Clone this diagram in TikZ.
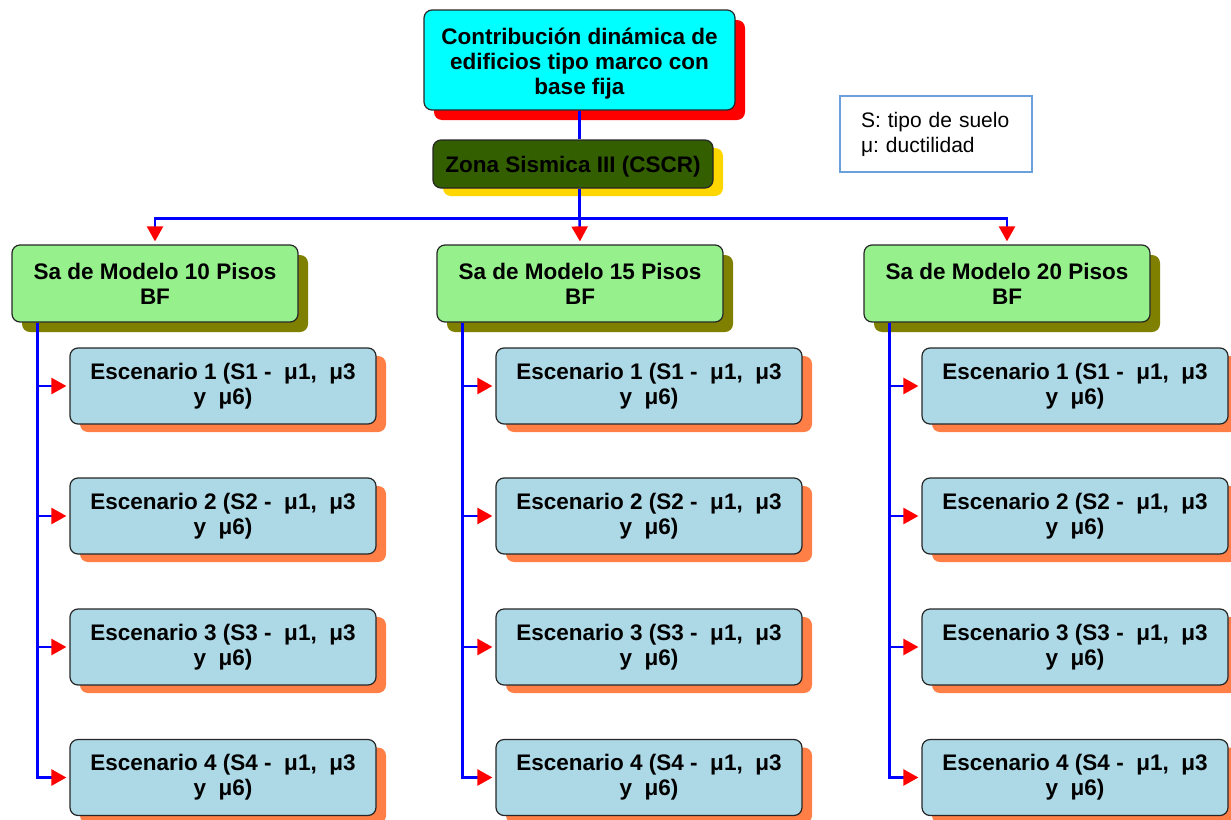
\documentclass[tikz,border=0pt]{standalone}
\usepackage{fontspec}
\setmainfont{Liberation Sans}
\usetikzlibrary{arrows.meta,shadows}
\definecolor{topfill}{RGB}{0,255,255}
\definecolor{zonafill}{RGB}{51,95,0}
\definecolor{zonashadow}{RGB}{255,215,0}
\definecolor{gfill}{RGB}{150,240,140}
\definecolor{gshadow}{RGB}{128,128,0}
\definecolor{bfill}{RGB}{173,216,230}
\definecolor{bshadow}{RGB}{255,127,70}
\definecolor{legborder}{RGB}{106,160,220}
\frenchspacing
\newcommand{\lowertext}[2]{\raisebox{-#1}[\height][\depth]{#2}}
\tikzset{
  box/.style={draw=black!85, line width=1.2pt, rounded corners=8pt, align=center,
    font=\fontsize{22.5}{25}\selectfont\bfseries\frenchspacing, inner sep=0pt},
  topbox/.style={box, fill=topfill, minimum width=311pt, minimum height=100pt,
    drop shadow={shadow xshift=10pt, shadow yshift=-10pt, fill=red, opacity=1}},
  zonabox/.style={box, fill=zonafill, minimum width=280pt, minimum height=48pt,
    drop shadow={shadow xshift=10pt, shadow yshift=-8pt, fill=zonashadow, opacity=1}},
  gbox/.style={box, fill=gfill, minimum width=286pt, minimum height=77pt,
    drop shadow={shadow xshift=10pt, shadow yshift=-10pt, fill=gshadow, opacity=1}},
  bbox/.style={box, fill=bfill, minimum width=306pt, minimum height=76pt,
    drop shadow={shadow xshift=10pt, shadow yshift=-8pt, fill=bshadow, opacity=1}},
  legend/.style={draw=legborder, line width=1.5pt, text width=150pt, inner xsep=21pt,
    inner ysep=0pt, minimum height=76pt, align=left,
    font=\fontsize{21}{25}\selectfont\frenchspacing},
  conn/.style={draw=blue, line width=2.5pt},
  arr/.style={conn, shorten >=3pt, -{Triangle[red, width=16pt, length=15pt]}}
}
\begin{document}
\begin{tikzpicture}[x=1pt,y=-1pt]
\useasboundingbox (0,0) rectangle (1231,819);

\node[topbox] (top) at (579.5,60) {\lowertext{4pt}{\begin{tabular}{@{}c@{}}Contribución dinámica de\\edificios tipo marco con\\base fija\end{tabular}}};
\node[zonabox] (zona) at (573,164) {\lowertext{3pt}{Zona Sismica III (CSCR)}};
\node[legend] (leg) at (936,134) {S: tipo de suelo\\μ: ductilidad};

\node[gbox] (g1) at (155,283.5) {Sa de Modelo 10 Pisos\\BF};
\node[gbox] (g2) at (580,283.5) {Sa de Modelo 15 Pisos\\BF};
\node[gbox] (g3) at (1007,283.5) {Sa de Modelo 20 Pisos\\BF};

\foreach \c/\x in {1/223,2/649,3/1075}{
  \node[bbox] (b\c1) at (\x,386) {Escenario 1 (S1 - \ μ1, \ μ3\\y \ μ6)};
  \node[bbox] (b\c2) at (\x,516) {Escenario 2 (S2 - \ μ1, \ μ3\\y \ μ6)};
  \node[bbox] (b\c3) at (\x,647) {Escenario 3 (S3 - \ μ1, \ μ3\\y \ μ6)};
  \node[bbox] (b\c4) at (\x,777.5) {Escenario 4 (S4 - \ μ1, \ μ3\\y \ μ6)};
}

\path (top.south) ++(0,108) coordinate (hub);
\draw[conn] (top.south) -- (top.south |- zona.north);
\draw[conn] (top.south |- zona.south) -- (hub);
\draw[arr] (hub) -| (g1.north);
\draw[arr] (hub) -- (g2.north);
\draw[arr] (hub) -| (g3.north);

\foreach \c in {1,2,3}{
  \path (g\c.south west) ++(26,0) coordinate (v\c);
  \foreach \r in {1,2,3,4}{
    \draw[arr] (v\c) |- (b\c\r.west);
  }
}
\end{tikzpicture}
\end{document}
